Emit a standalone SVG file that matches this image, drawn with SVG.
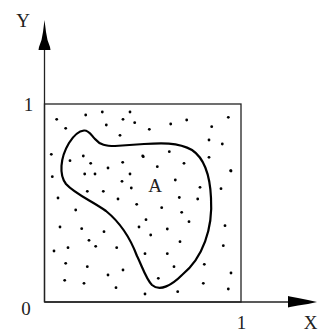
<svg xmlns="http://www.w3.org/2000/svg" width="320" height="333" viewBox="0 0 320 333">
<style>
.t{font-family:"Liberation Serif","DejaVu Serif",serif;font-size:19px;fill:#222;text-anchor:middle}
.ax{stroke:#222;stroke-width:1.3;fill:none}
.d{fill:#000}
</style>
<rect width="320" height="333" fill="#fff"/>
<g id="box">
<rect x="44.5" y="104" width="196.5" height="198" class="ax"/>
</g>
<g id="axes">
<line x1="44.5" y1="48" x2="44.5" y2="302" class="ax"/>
<line x1="44.5" y1="302" x2="290" y2="302" class="ax"/>
<polygon points="44.5,20 46,32 47.5,40 50,47 50.5,50 38.5,50 39,47 41.5,40 43,32" fill="#000"/>
<polygon points="317,302 308,300 298,298 290,296.5 288,296 288,307.5 290,307 298,305.5 308,304" fill="#000"/>
</g>
<g id="regionA">
<path d="M84,130.5 C89,130 91,135 95,139 C100,145 106,146 115,146 L144,144 C160,143 178,142 192,150 C204,158 210,175 211,198 C213,228 203,258 182,275 C172,285 160,292 152,285 C146,279 142,266 137,256 C131,240 122,224 106,211 C92,201 75,194 66,184 C59,175 60,158 69,143 C74,135 79,131 84,130.5 Z" fill="none" stroke="#000" stroke-width="2.2" stroke-linejoin="round"/>
</g>
<g id="dots">
<circle class="d" cx="56.7" cy="119.3" r="1.4"/>
<circle class="d" cx="85.7" cy="115" r="1.4"/>
<circle class="d" cx="102.3" cy="112" r="1.4"/>
<circle class="d" cx="130" cy="112" r="1.4"/>
<circle class="d" cx="65.7" cy="128.3" r="1.4"/>
<circle class="d" cx="106.3" cy="125" r="1.4"/>
<circle class="d" cx="123" cy="119.3" r="1.4"/>
<circle class="d" cx="134.7" cy="122.7" r="1.4"/>
<circle class="d" cx="120" cy="135.3" r="1.4"/>
<circle class="d" cx="51.3" cy="154.3" r="1.4"/>
<circle class="d" cx="70" cy="160.7" r="1.4"/>
<circle class="d" cx="83.3" cy="156" r="1.4"/>
<circle class="d" cx="90.7" cy="163.3" r="1.4"/>
<circle class="d" cx="122.7" cy="162.3" r="1.4"/>
<circle class="d" cx="108" cy="168" r="1.4"/>
<circle class="d" cx="142.7" cy="156" r="1.4"/>
<circle class="d" cx="52.3" cy="176.7" r="1.4"/>
<circle class="d" cx="84.7" cy="174" r="1.4"/>
<circle class="d" cx="95" cy="174" r="1.4"/>
<circle class="d" cx="130" cy="174" r="1.4"/>
<circle class="d" cx="122" cy="181.3" r="1.4"/>
<circle class="d" cx="131.3" cy="188" r="1.4"/>
<circle class="d" cx="87.3" cy="191.3" r="1.4"/>
<circle class="d" cx="103.3" cy="191.3" r="1.4"/>
<circle class="d" cx="58" cy="198" r="1.4"/>
<circle class="d" cx="118" cy="199" r="1.4"/>
<circle class="d" cx="149.3" cy="129.3" r="1.4"/>
<circle class="d" cx="170.7" cy="124" r="1.4"/>
<circle class="d" cx="186.7" cy="120" r="1.4"/>
<circle class="d" cx="211.7" cy="126.7" r="1.4"/>
<circle class="d" cx="228.3" cy="117.3" r="1.4"/>
<circle class="d" cx="209" cy="140" r="1.4"/>
<circle class="d" cx="222.3" cy="144" r="1.4"/>
<circle class="d" cx="143.3" cy="156.7" r="1.4"/>
<circle class="d" cx="169.3" cy="151.7" r="1.4"/>
<circle class="d" cx="157.3" cy="166.7" r="1.4"/>
<circle class="d" cx="184" cy="163.3" r="1.4"/>
<circle class="d" cx="209" cy="157.3" r="1.4"/>
<circle class="d" cx="230.7" cy="170.7" r="1.4"/>
<circle class="d" cx="175.3" cy="180" r="1.4"/>
<circle class="d" cx="200" cy="187.3" r="1.4"/>
<circle class="d" cx="221" cy="188.7" r="1.4"/>
<circle class="d" cx="179.3" cy="197.5" r="1.4"/>
<circle class="d" cx="197.7" cy="199" r="1.4"/>
<circle class="d" cx="75.7" cy="210" r="1.4"/>
<circle class="d" cx="136.7" cy="204.3" r="1.4"/>
<circle class="d" cx="60" cy="227" r="1.4"/>
<circle class="d" cx="81.7" cy="228.7" r="1.4"/>
<circle class="d" cx="104" cy="231.7" r="1.4"/>
<circle class="d" cx="139" cy="227" r="1.4"/>
<circle class="d" cx="89" cy="240.3" r="1.4"/>
<circle class="d" cx="68" cy="247.7" r="1.4"/>
<circle class="d" cx="95.7" cy="246.3" r="1.4"/>
<circle class="d" cx="116.7" cy="247.7" r="1.4"/>
<circle class="d" cx="54" cy="251" r="1.4"/>
<circle class="d" cx="65.7" cy="263.3" r="1.4"/>
<circle class="d" cx="87.3" cy="266.7" r="1.4"/>
<circle class="d" cx="123" cy="270" r="1.4"/>
<circle class="d" cx="108" cy="275" r="1.4"/>
<circle class="d" cx="64.7" cy="280.3" r="1.4"/>
<circle class="d" cx="84" cy="283.3" r="1.4"/>
<circle class="d" cx="116" cy="287.7" r="1.4"/>
<circle class="d" cx="145" cy="294" r="1.4"/>
<circle class="d" cx="161.7" cy="207.7" r="1.4"/>
<circle class="d" cx="181.7" cy="212.3" r="1.4"/>
<circle class="d" cx="146" cy="219.7" r="1.4"/>
<circle class="d" cx="189" cy="221.7" r="1.4"/>
<circle class="d" cx="167.3" cy="229" r="1.4"/>
<circle class="d" cx="150.7" cy="235" r="1.4"/>
<circle class="d" cx="225" cy="225.7" r="1.4"/>
<circle class="d" cx="180" cy="241.7" r="1.4"/>
<circle class="d" cx="223.3" cy="245.7" r="1.4"/>
<circle class="d" cx="145" cy="253.7" r="1.4"/>
<circle class="d" cx="167.3" cy="253.7" r="1.4"/>
<circle class="d" cx="174" cy="266.7" r="1.4"/>
<circle class="d" cx="204.3" cy="264.3" r="1.4"/>
<circle class="d" cx="231" cy="273" r="1.4"/>
<circle class="d" cx="158.3" cy="278.3" r="1.4"/>
<circle class="d" cx="203.3" cy="283.3" r="1.4"/>
<circle class="d" cx="228.3" cy="289" r="1.4"/>
<circle class="d" cx="177.7" cy="291.7" r="1.4"/>
<circle class="d" cx="231" cy="171" r="1.4"/>
</g>
<g id="labels">
<text class="t" x="23" y="27">Y</text>
<text class="t" x="28.5" y="111">1</text>
<text class="t" x="26" y="315">0</text>
<text class="t" x="241.5" y="329">1</text>
<text class="t" x="310.5" y="329">X</text>
<text class="t" x="155" y="192">A</text>
</g>
</svg>
